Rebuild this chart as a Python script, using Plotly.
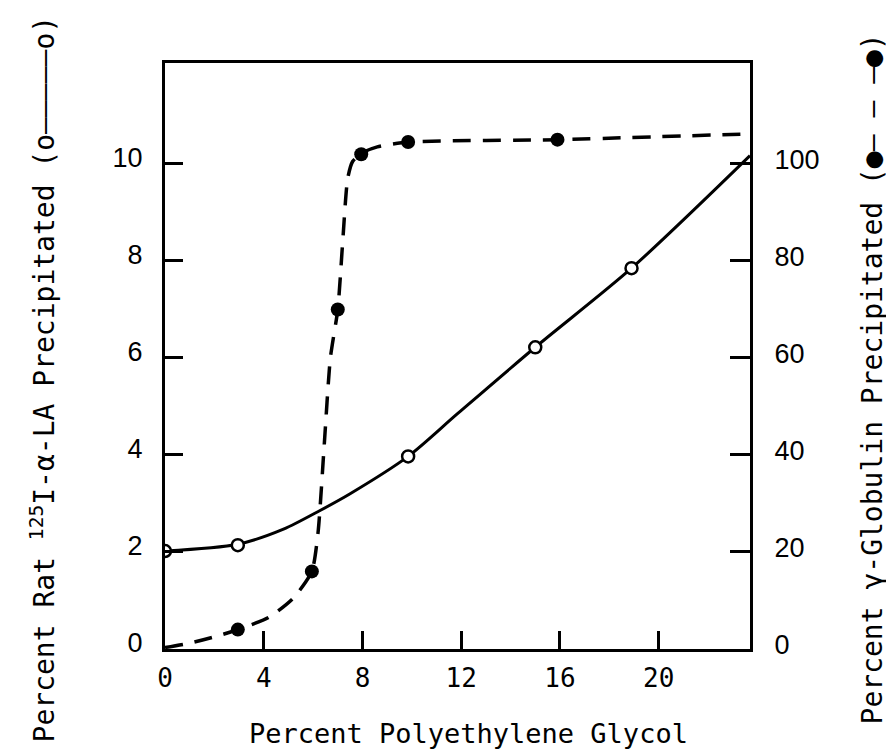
import plotly.graph_objects as go

# ---- data ----
# 125I-alpha-LA precipitated (open circles, solid line, left axis, %)
la_x = [0, 2.95, 9.85, 15.0, 18.9]
la_y = [2.02, 2.14, 3.97, 6.22, 7.85]
# drawn curve through the open circles
la_curve_x = [0, 2.95, 4.8, 6.3, 7.5, 9.85, 11.85, 15.0, 18.9, 23.7]
la_curve_y = [2.02, 2.16, 2.47, 2.86, 3.2, 3.97, 4.85, 6.22, 7.85, 10.17]

# gamma-globulin precipitated (filled circles, dashed line, right axis, %)
gg_x = [2.95, 5.95, 7.0, 7.95, 9.85, 15.9]
gg_y = [4.0, 16.0, 70.0, 102.0, 104.5, 105.0]
# drawn curve through the filled circles
gg_curve_x = [0, 1.0, 2.0, 2.95, 4.2, 5.2, 5.95, 6.2, 6.45, 6.7, 7.0,
              7.2, 7.4, 7.6, 8.0, 8.6, 9.85, 15.9, 23.7]
gg_curve_y = [0.3, 1.2, 2.5, 4.0, 6.5, 10.5, 16.0, 24.0, 42.0, 60.0, 70.0,
              84.0, 97.0, 100.5, 102.3, 103.5, 104.5, 105.0, 106.2]

x_ticks = [0, 4, 8, 12, 16, 20]
left_ticks = [0, 2, 4, 6, 8, 10]
right_ticks = [0, 20, 40, 60, 80, 100]

x_title = "Percent Polyethylene Glycol"
left_title = "Percent Rat <sup>125</sup>I-α-LA Precipitated (o—————o)"
right_title = "Percent γ-Globulin Precipitated (●— — —●)"

MONO = "DejaVu Sans Mono"
SANS = "Liberation Sans"

# the page body has an 8px margin: draw the figure 8px smaller
W, H = 886, 744
L, T = 157, 55
PW, PH = 585, 586

fig = go.Figure()

fig.add_trace(go.Scatter(
    x=gg_curve_x, y=gg_curve_y, yaxis="y2", mode="lines",
    line=dict(color="black", width=3.5, dash="18px,12px", shape="spline", smoothing=0.6),
    hoverinfo="skip", showlegend=False))
fig.add_trace(go.Scatter(
    x=la_curve_x, y=la_curve_y, mode="lines",
    line=dict(color="black", width=3, shape="spline", smoothing=0.8),
    hoverinfo="skip", showlegend=False))
fig.add_trace(go.Scatter(
    x=la_x, y=la_y, mode="markers",
    marker=dict(symbol="circle", size=12, color="white",
                line=dict(color="black", width=2.5)),
    showlegend=False))
fig.add_trace(go.Scatter(
    x=gg_x, y=gg_y, yaxis="y2", mode="markers",
    marker=dict(symbol="circle", size=14, color="black"),
    showlegend=False))

fig.update_layout(
    width=W, height=H,
    margin=dict(l=L, r=W - L - PW, t=T, b=H - T - PH, pad=0),
    paper_bgcolor="white", plot_bgcolor="white",
    showlegend=False,
    xaxis=dict(
        range=[0, 23.7], tickvals=x_ticks, ticktext=[str(v) for v in x_ticks],
        ticks="inside", ticklen=18, tickwidth=3, tickcolor="black",
        showline=True, linecolor="black", linewidth=3, mirror=True,
        showgrid=False, zeroline=False,
        tickfont=dict(family=MONO, size=26, color="black"),
        ticklabelstandoff=4,
    ),
    yaxis=dict(
        range=[0, 12.08], tickvals=left_ticks, ticktext=[str(v) for v in left_ticks],
        ticks="inside", ticklen=18, tickwidth=3, tickcolor="black",
        showline=True, linecolor="black", linewidth=3, mirror=True,
        showgrid=False, zeroline=False,
        tickfont=dict(family=SANS, size=27, color="black"),
        ticklabelstandoff=14, ticklabelshift=-6,
    ),
    yaxis2=dict(
        range=[0, 120.8], overlaying="y", side="right",
        tickvals=right_ticks, ticktext=[str(v) for v in right_ticks],
        ticks="inside", ticklen=20, tickwidth=3, tickcolor="black",
        showline=True, linecolor="black", linewidth=3,
        showgrid=False, zeroline=False,
        tickfont=dict(family=SANS, size=27, color="black"),
        ticklabelstandoff=16, ticklabelshift=-4,
    ),
    annotations=[
        dict(text=x_title, xref="paper", yref="paper", x=0.518, y=0,
             xanchor="center", yanchor="middle", yshift=-84, showarrow=False,
             font=dict(family=MONO, size=27, color="black")),
        dict(text=left_title, xref="paper", yref="paper", x=0, y=0.46,
             xanchor="center", yanchor="middle", xshift=-122, textangle=-90,
             showarrow=False, font=dict(family=MONO, size=28, color="black")),
        dict(text=right_title, xref="paper", yref="paper", x=1, y=0.46,
             xanchor="center", yanchor="middle", xshift=122, textangle=-90,
             showarrow=False, font=dict(family=MONO, size=28, color="black")),
    ],
)

fig.write_html("out.html")
